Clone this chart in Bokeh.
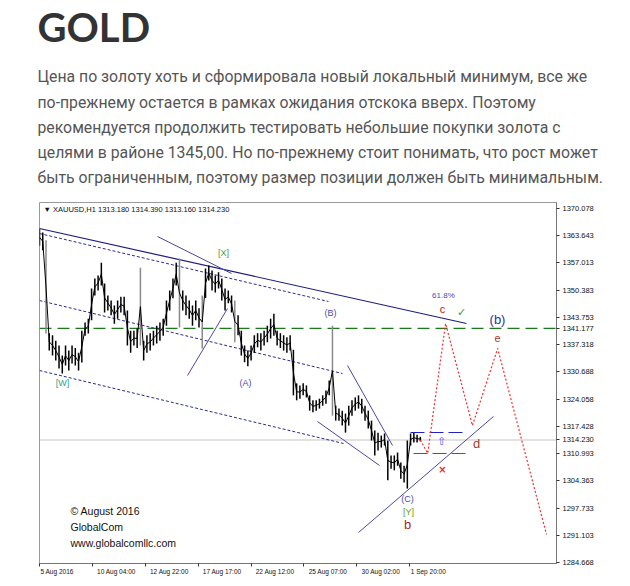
from bokeh.plotting import figure
from bokeh.models import Range1d, FixedTicker, PrintfTickFormatter, ColumnDataSource, Title
from bokeh.core.properties import value
from bokeh.embed import file_html
from bokeh.resources import INLINE

# ---------------- text ----------------
title_text = "GOLD"
paragraph_lines = [
    "Цена по золоту хоть и сформировала новый локальный минимум, все же",
    "по-прежнему остается в рамках ожидания отскока вверх. Поэтому",
    "рекомендуется продолжить тестировать небольшие покупки золота с",
    "целями в районе 1345,00. Но по-прежнему стоит понимать, что рост может",
    "быть ограниченным, поэтому размер позиции должен быть минимальным.",
]

# ---------------- chart data ----------------
bar_step = 4  # hourly bars per plotted bar
bar_high = [1365.2, 1364.3, 1362.4, 1340.0, 1339.5, 1338.2, 1337.0, 1334.6, 1337.0, 1335.8,
            1337.0, 1336.4, 1335.3, 1340.6, 1342.6, 1343.5, 1350.8, 1353.2, 1353.9, 1357.0,
            1352.0, 1349.1, 1347.9, 1346.7, 1347.9, 1348.8, 1348.8, 1345.5, 1340.6, 1340.6,
            1341.1, 1355.8, 1338.2, 1339.5, 1340.0, 1340.6, 1341.8, 1342.6, 1343.5, 1347.9,
            1350.3, 1353.2, 1357.0, 1358.0, 1350.3, 1349.1, 1347.9, 1346.7, 1347.9, 1346.0,
            1349.1, 1355.6, 1356.3, 1355.1, 1353.9, 1354.7, 1353.2, 1350.8, 1350.3, 1349.1,
            1347.9, 1344.3, 1340.6, 1337.0, 1335.8, 1337.0, 1339.5, 1340.0, 1340.0, 1340.6,
            1341.8, 1343.5, 1344.7, 1340.6, 1340.0, 1339.5, 1339.0, 1339.5, 1336.0, 1327.9,
            1327.4, 1327.9, 1327.4, 1325.0, 1323.8, 1323.8, 1324.2, 1325.0, 1326.2, 1328.6,
            1341.8, 1322.5, 1321.8, 1321.3, 1320.6, 1322.5, 1323.8, 1324.5, 1325.0, 1324.2,
            1322.5, 1321.3, 1318.9, 1316.5, 1316.0, 1315.3, 1315.8, 1314.1, 1310.5, 1310.5,
            1311.2, 1308.8, 1308.0, 1314.1, 1315.8, 1316.0, 1315.5, 1315.0]
bar_low = [1361.1, 1360.0, 1339.9, 1335.8, 1334.6, 1333.4, 1331.5, 1330.3, 1332.2, 1331.0,
           1332.7, 1332.2, 1331.0, 1332.9, 1339.4, 1339.9, 1343.1, 1349.1, 1350.3, 1351.5,
           1345.0, 1345.5, 1344.3, 1342.3, 1343.5, 1345.0, 1344.3, 1337.0, 1335.3, 1337.0,
           1336.4, 1337.0, 1333.4, 1335.3, 1335.8, 1337.0, 1337.5, 1338.2, 1339.4, 1341.8,
           1345.5, 1348.4, 1351.5, 1341.4, 1345.5, 1344.3, 1343.5, 1341.8, 1343.1, 1341.4,
           1336.3, 1348.5, 1352.7, 1350.3, 1349.8, 1350.8, 1347.9, 1345.5, 1347.2, 1345.0,
           1337.8, 1339.5, 1334.6, 1333.0, 1332.0, 1333.4, 1335.3, 1336.6, 1335.8, 1337.0,
           1337.8, 1338.7, 1339.4, 1337.0, 1336.4, 1335.8, 1335.3, 1335.8, 1325.0, 1323.8,
           1324.2, 1325.0, 1324.5, 1321.3, 1320.9, 1321.3, 1321.8, 1322.5, 1323.0, 1325.0,
           1320.1, 1318.9, 1318.9, 1317.7, 1316.0, 1317.7, 1320.1, 1321.3, 1321.8, 1320.6,
           1318.9, 1317.0, 1314.1, 1310.5, 1311.7, 1312.4, 1312.9, 1304.5, 1307.3, 1306.9,
           1308.0, 1304.9, 1304.0, 1302.5, 1312.9, 1313.6, 1313.6, 1313.9]
spike_bars = [2, 31, 43, 50, 60, 90]

price_ticks = [1284.668, 1291.103, 1297.733, 1304.363, 1310.993, 1317.428, 1324.058,
               1330.688, 1337.318, 1343.753, 1350.383, 1357.013, 1363.643, 1370.078]
date_ticks = [0, 65, 130, 195, 260, 325, 390, 455]
date_labels = ["5 Aug 2016", "10 Aug 04:00", "12 Aug 22:00", "17 Aug 17:00",
               "22 Aug 12:00", "25 Aug 07:00", "30 Aug 02:00", "1 Sep 20:00"]

last_price = 1314.230
level_price = 1341.177
header_text = "▼ XAUUSD,H1  1313.180 1314.390 1313.160 1314.230"

# channel / trend lines (bar index, price)
channel_solid = dict(x0=[0], y0=[1365.25], x1=[524.7], y1=[1342.33])
channel_dashed = dict(x0=[0, 0, 0], y0=[1364.05, 1347.88, 1330.99],
                      x1=[355.1, 372.3, 373.6], y1=[1347.64, 1330.27, 1313.38])
wedge_lines = dict(x0=[145.0, 181.9, 378.5, 341.6, 392.0],
                   y0=[1363.33, 1329.79, 1332.2, 1318.69, 1291.91],
                   x1=[235.9, 231.0, 433.8, 417.8, 557.9],
                   y1=[1354.40, 1345.95, 1312.90, 1308.08, 1319.90])
target_level = dict(x0=[455.9], x1=[523.5], y=[1316.04])
stop_level = dict(x0=[459.6], x1=[525.9], y=[1310.97])

proj_x = [468, 477, 499, 532, 563, 623]
proj_y = [1314.23, 1311.0, 1342.33, 1317.73, 1336.3, 1291.43]

wave_text = ["[W]", "[X]", "(A)", "(B)", "(C)", "[Y]", "b", "61.8%", "c", "(b)", "e", "d"]
wave_x = [28.3, 226.1, 253.1, 357.6, 452.2, 453.4, 452.2, 496.4, 495.2, 562.8, 562.8, 537.0]
wave_y = [1327.86, 1359.46, 1328.1, 1344.75, 1300.11, 1296.74, 1293.84, 1349.09, 1345.95,
          1343.3, 1338.95, 1313.38]
wave_color = ["#2f9f8a", "#45a03a", "#4a4ab0", "#4a4ab0", "#4a4ab0", "#6aa020", "#a52a2a",
              "#4a4ab0", "#c02020", "#3030a0", "#a83a2a", "#a83a2a"]
wave_size = ["9px", "9px", "9px", "9px", "9px", "9px", "13px", "8px", "11px", "13px", "11px", "13px"]

copyright_lines = ["© August 2016", "GlobalCom", "www.globalcomllc.com"]
copyright_y = [1296.98, 1293.12, 1289.26]

# ---------------- figure geometry ----------------
W, H = 622, 580
TOP, LEFT, RIGHT, BOTTOM = 202, 39, 66, 17
XMAX = 635.3
Y0, Y1 = 1284.43, 1371.53
kx = (W - LEFT - RIGHT) / XMAX

chart = figure(width=W, height=H, x_range=Range1d(0, XMAX), y_range=Range1d(Y0, Y1),
               y_axis_location="right", output_backend="svg", toolbar_location=None,
               min_border_left=LEFT, min_border_right=RIGHT, min_border_top=TOP,
               min_border_bottom=BOTTOM, outline_line_color="#9a9a9a")
chart.grid.visible = False

# header (title + paragraph) above the chart
chart.add_layout(Title(text="\n".join(paragraph_lines), text_font="Roboto", text_font_size="15.8px",
                       text_font_style="normal", text_color="#555555", text_line_height=1.333,
                       align="left", offset=-2, standoff=30), "above")
chart.add_layout(Title(text=title_text, text_font="Lato", text_font_style="bold",
                       text_font_size="40px", text_color="#333333",
                       align="left", offset=-2, standoff=0), "above")

# x axis: minor ticks mark the bar times, labels sit just right of each mark
label_half_px = [17.6, 24.0, 24.0, 24.0, 24.0, 24.0, 24.0, 18.5]
label_ticks = [t + h / kx for t, h in zip(date_ticks, label_half_px)]
xa = chart.xaxis[0]
xa.ticker = FixedTicker(ticks=label_ticks, minor_ticks=date_ticks)
xa.major_label_overrides = {lt: s for lt, s in zip(label_ticks, date_labels)}
xa.major_label_text_font = "Liberation Sans"
xa.major_label_text_font_size = "6.5px"
xa.major_label_text_color = "#111111"
xa.major_label_standoff = 1
xa.major_tick_out = 3
xa.major_tick_in = 0
xa.major_tick_line_color = None
xa.minor_tick_out = 3
xa.minor_tick_in = 0
xa.minor_tick_line_color = "#333333"
xa.axis_line_color = "#777777"

# y axis (terminal price scale, incl. the two marked prices)
ya = chart.yaxis[0]
ya.ticker = FixedTicker(ticks=price_ticks + [level_price, last_price])
ya.formatter = PrintfTickFormatter(format="%.3f")
ya.major_label_text_font = "Liberation Sans"
ya.major_label_text_font_size = "7.5px"
ya.major_label_text_color = "#111111"
ya.major_label_standoff = 3
ya.major_tick_out = 3
ya.major_tick_in = 0
ya.minor_tick_line_color = None
ya.axis_line_color = "#777777"
ya.major_tick_line_color = "#333333"

# horizontal levels
chart.segment(x0=[0], x1=[XMAX], y0=[last_price], y1=[last_price], line_color="#c4c4c4", line_width=1)
chart.segment(x0=[0], x1=[XMAX], y0=[level_price], y1=[level_price], line_color="#1a7a1a",
              line_width=1.2, line_dash="12 6")

# channel lines
chart.segment(source=ColumnDataSource(channel_solid), x0="x0", y0="y0", x1="x1", y1="y1",
              line_color="#1c1c80", line_width=1.2)
chart.segment(source=ColumnDataSource(channel_dashed), x0="x0", y0="y0", x1="x1", y1="y1",
              line_color="#2a2a90", line_width=1, line_dash="3 2")
chart.segment(source=ColumnDataSource(wedge_lines), x0="x0", y0="y0", x1="x1", y1="y1",
              line_color="#4848a8", line_width=1)

# price bars
xs = [i * bar_step for i in range(len(bar_high))]
mids = [(h + l) / 2 for h, l in zip(bar_high, bar_low)]
colors = ["#8a8a8a" if i in spike_bars else "#000000" for i in range(len(bar_high))]
chart.segment(source=ColumnDataSource(dict(x=xs, hi=bar_high, lo=bar_low, c=colors)),
              x0="x", y0="lo", x1="x", y1="hi", line_color="c", line_width=1.5)
chart.line(xs, mids, line_color="#000000", line_width=1.0)

# trade levels
chart.segment(x0=target_level["x0"], x1=target_level["x1"], y0=target_level["y"], y1=target_level["y"],
              line_color="#2020c8", line_width=1.2, line_dash="14 5")
chart.segment(x0=stop_level["x0"], x1=stop_level["x1"], y0=stop_level["y"], y1=stop_level["y"],
              line_color="#e02020", line_width=1.2, line_dash="14 5")

# projection
chart.line(proj_x, proj_y, line_color="#ff2a2a", line_width=1.2, line_dash="2 2")

# wave labels
chart.text(source=ColumnDataSource(dict(x=wave_x, y=wave_y, t=wave_text, c=wave_color, s=wave_size)),
           x="x", y="y", text="t", text_color="c", text_font_size="s",
           text_font=value("Liberation Sans"), text_align="center", text_baseline="middle")
chart.text(x=[518.6], y=[1344.99], text=["✓"], text_color="#2a9d4a", text_font_size="11px",
           text_font=value("DejaVu Sans"), text_align="center", text_baseline="middle")
chart.text(x=[494.0], y=[1313.87], text=["⇧"], text_color="#4060ff", text_font_size="11px",
           text_font=value("DejaVu Sans"), text_align="center", text_baseline="middle")
chart.text(x=[495.2], y=[1307.11], text=["×"], text_color="#e03030", text_font_size="10px",
           text_font=value("DejaVu Sans"), text_font_style="bold", text_align="center",
           text_baseline="middle")

# terminal header & copyright
chart.text(x=[4.9], y=[1369.84], text=[header_text], text_color="#111111", text_font_size="7.5px",
           text_font=value("Liberation Sans"), text_baseline="middle")
chart.text(x=[38.1] * 3, y=copyright_y, text=copyright_lines, text_color="#111111",
           text_font_size="10.5px", text_font=value("Liberation Sans"), text_baseline="middle")

open("out.html", "w").write(file_html(chart, INLINE))
